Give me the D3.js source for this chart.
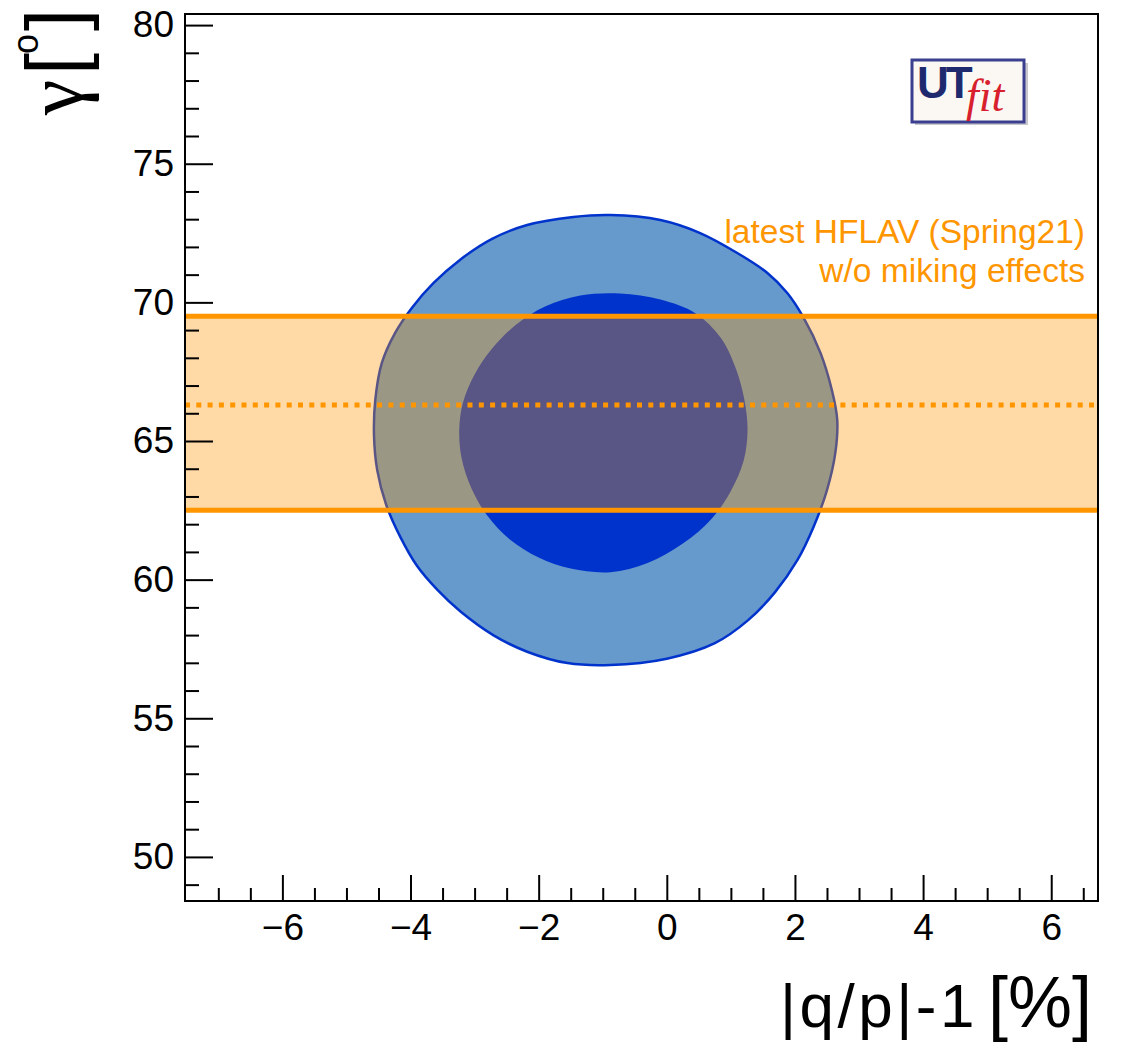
<!DOCTYPE html>
<html>
<head>
<meta charset="utf-8">
<script src="https://cdn.jsdelivr.net/npm/d3@7"></script>
<style>
  html, body { margin: 0; padding: 0; background: #fff; }
  svg { display: block; font-family: "Liberation Sans", Arial, Helvetica, sans-serif; }
</style>
</head>
<body>
<svg id="chart" width="1121" height="1051"></svg>
<script>
// Axis ranges and ticks
const xDomain = [-7.52, 6.73];
const yDomain = [48.41, 80.40];
const xMajorTicks = [-6, -4, -2, 0, 2, 4, 6];
const yMajorTicks = [50, 55, 60, 65, 70, 75, 80];

// 95% probability region: (|q/p|-1 [%], gamma [deg])
const contour95 = [
  [-0.88, 73.15], [-0.10, 72.97], [0.52, 72.50], [1.10, 71.78], [1.57, 71.06],
  [1.88, 70.34], [2.13, 69.47], [2.40, 68.17], [2.58, 66.80], [2.66, 65.76],
  [2.63, 64.57], [2.50, 63.23], [2.29, 61.90], [2.04, 60.71], [1.69, 59.55],
  [1.27, 58.54], [0.75, 57.71], [0.00, 57.15], [-0.88, 56.92], [-1.55, 56.99],
  [-2.18, 57.40], [-2.71, 58.00], [-3.22, 58.85], [-3.58, 59.63], [-3.90, 60.50],
  [-4.16, 61.54], [-4.38, 62.70], [-4.52, 63.95], [-4.57, 65.20], [-4.55, 66.48],
  [-4.45, 67.80], [-4.24, 68.90], [-3.98, 69.80], [-3.64, 70.70], [-3.22, 71.55],
  [-2.72, 72.30], [-2.18, 72.79], [-1.46, 73.08]
];

// 68% probability region
const contour68 = [
  [-0.73, 70.32], [-0.10, 70.10], [0.45, 69.60], [0.85, 68.70], [1.08, 67.60],
  [1.21, 66.50], [1.26, 65.40], [1.20, 64.30], [1.00, 63.20], [0.70, 62.20],
  [0.25, 61.30], [-0.30, 60.60], [-0.88, 60.27], [-1.50, 60.40], [-2.00, 60.80],
  [-2.45, 61.45], [-2.80, 62.30], [-3.05, 63.30], [-3.20, 64.35], [-3.24, 65.40],
  [-3.18, 66.40], [-3.00, 67.40], [-2.72, 68.35], [-2.35, 69.20], [-1.90, 69.85],
  [-1.35, 70.25]
];

// HFLAV gamma average (degrees)
const hflavCentral = 66.3;
const hflavLow = 62.5;
const hflavHigh = 69.5;
const hflavLabel = ["latest HFLAV (Spring21)", "w/o miking effects"];

const svg = d3.select("#chart");
const plotLeft = 185, plotRight = 1098, plotTop = 14, plotBottom = 901;

const x = d3.scaleLinear().domain(xDomain).range([plotLeft, plotRight]);
const y = d3.scaleLinear().domain(yDomain).range([plotBottom, plotTop]);

svg.append("defs").append("clipPath").attr("id", "plotclip")
  .append("rect").attr("x", plotLeft).attr("y", plotTop)
  .attr("width", plotRight - plotLeft).attr("height", plotBottom - plotTop);

const plot = svg.append("g").attr("clip-path", "url(#plotclip)");

const line = d3.line()
  .x(d => x(d[0])).y(d => y(d[1]))
  .curve(d3.curveCatmullRomClosed.alpha(0.5));

plot.append("path").attr("d", line(contour95))
  .attr("fill", "#6699cc").attr("stroke", "#0033cc").attr("stroke-width", 2.5);
plot.append("path").attr("d", line(contour68))
  .attr("fill", "#0033cc").attr("stroke", "none");

// HFLAV band
const orange = "#ff9600";
plot.append("rect")
  .attr("x", plotLeft).attr("width", plotRight - plotLeft)
  .attr("y", y(hflavHigh)).attr("height", y(hflavLow) - y(hflavHigh))
  .attr("fill", orange).attr("fill-opacity", 0.35);
[hflavHigh, hflavLow].forEach(v => {
  plot.append("line").attr("x1", plotLeft).attr("x2", plotRight)
    .attr("y1", y(v)).attr("y2", y(v))
    .attr("stroke", orange).attr("stroke-width", 5);
});
plot.append("line").attr("x1", plotLeft).attr("x2", plotRight)
  .attr("y1", y(hflavCentral)).attr("y2", y(hflavCentral))
  .attr("stroke", orange).attr("stroke-width", 5)
  .attr("stroke-dasharray", "5 6.3");

// HFLAV label
const lab = svg.append("text")
  .attr("text-anchor", "end").attr("fill", orange)
  .attr("font-size", 33.5);
hflavLabel.forEach((t, i) => {
  lab.append("tspan").attr("x", 1085).attr("y", 243 + i * 39).text(t);
});

// Axes
const xMinor = d3.range(-7, 6.6, 0.5).filter(v => !xMajorTicks.includes(v));
const yMinor = d3.range(49, 80, 1).filter(v => !yMajorTicks.includes(v));

svg.append("g").attr("transform", `translate(0,${plotBottom})`)
  .call(d3.axisBottom(x).tickValues(xMajorTicks).tickSizeInner(-26).tickSizeOuter(0).tickPadding(13));
svg.append("g").attr("transform", `translate(0,${plotBottom})`)
  .call(d3.axisBottom(x).tickValues(xMinor).tickSizeInner(-13).tickSizeOuter(0).tickFormat(""));

svg.append("g").attr("transform", `translate(${plotLeft},0)`)
  .call(d3.axisLeft(y).tickValues(yMajorTicks).tickSizeInner(-28).tickSizeOuter(0).tickPadding(11));
svg.append("g").attr("transform", `translate(${plotLeft},0)`)
  .call(d3.axisLeft(y).tickValues(yMinor).tickSizeInner(-14).tickSizeOuter(0).tickFormat(""));

svg.selectAll(".domain").remove();
svg.selectAll(".tick line").attr("stroke", "#000").attr("stroke-width", 2);
svg.selectAll(".tick text").attr("font-size", 37).attr("fill", "#000")
  .attr("font-family", "'Liberation Sans', Arial, sans-serif");

// Frame
svg.append("rect").attr("x", plotLeft).attr("y", plotTop)
  .attr("width", plotRight - plotLeft).attr("height", plotBottom - plotTop)
  .attr("fill", "none").attr("stroke", "#000").attr("stroke-width", 2);

// Axis titles
const xt = svg.append("text").attr("text-anchor", "end")
  .attr("x", 1092).attr("y", 1027).attr("fill", "#000");
xt.append("tspan").attr("font-size", 62).attr("letter-spacing", 3.5).text("|q/p|-1");
xt.append("tspan").attr("font-size", 72).attr("dx", 10).text("[%]");

// gamma [deg] title, rotated; tspan x runs upward along the left margin
const yt = svg.append("text")
  .attr("transform", "translate(82,0) rotate(-90)")
  .attr("fill", "#000");
yt.append("tspan").attr("x", -115).attr("y", 0).attr("font-size", 80)
  .attr("font-family", "'Liberation Serif', 'DejaVu Serif', serif").text("γ");
yt.append("tspan").attr("x", -75).attr("y", 0).attr("font-size", 80).text("[");
yt.append("tspan").attr("x", -54).attr("y", -44).attr("font-size", 36).text("o");
yt.append("tspan").attr("x", -31).attr("y", 0).attr("font-size", 80).text("]");

// UTfit logo
const logo = svg.append("g");
logo.append("rect").attr("x", 915).attr("y", 63).attr("width", 113).attr("height", 62)
  .attr("fill", "#c8c8cc");
logo.append("rect").attr("x", 912).attr("y", 60).attr("width", 112).attr("height", 62)
  .attr("fill", "#fbf8f4").attr("stroke", "#3b3f8f").attr("stroke-width", 3);
logo.append("text").attr("x", 917).attr("y", 98)
  .attr("font-size", 44).attr("font-weight", "bold").attr("fill", "#1f2a6e")
  .attr("letter-spacing", -3)
  .attr("font-family", "'Liberation Sans', Arial, sans-serif").text("UT");
logo.append("text").attr("x", 966).attr("y", 111)
  .attr("font-size", 46).attr("font-style", "italic").attr("fill", "#d81f2e")
  .attr("font-family", "'Liberation Serif', 'DejaVu Serif', serif").text("fit");
</script>
</body>
</html>
